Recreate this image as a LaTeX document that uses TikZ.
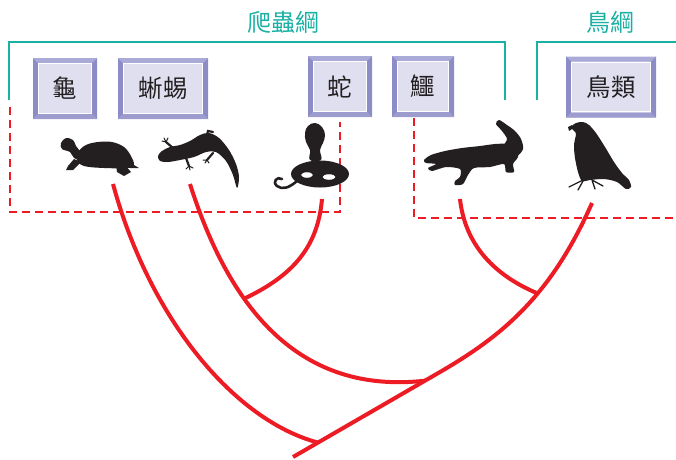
\documentclass[tikz,border=0pt]{standalone}
\usepackage{fontspec}
\newfontfamily\cjk{Noto Sans CJK TC}
\usetikzlibrary{calc}

\definecolor{hdteal}{RGB}{26,176,164}
\definecolor{clred}{RGB}{237,28,36}
\definecolor{ink}{RGB}{35,31,32}
\definecolor{bevtop}{RGB}{170,170,216}
\definecolor{bevside}{RGB}{140,140,198}
\definecolor{bevbot}{RGB}{156,156,206}
\definecolor{face}{RGB}{223,223,240}

\tikzset{
  taxon/.style={inner sep=0pt, minimum height=61pt, fill=face, text=ink,
    font=\cjk\fontsize{24.5}{24.5}\selectfont,
    path picture={
      \coordinate (nw) at (path picture bounding box.north west);
      \coordinate (ne) at (path picture bounding box.north east);
      \coordinate (sw) at (path picture bounding box.south west);
      \coordinate (se) at (path picture bounding box.south east);
      \fill[bevtop] (nw) -- (ne) -- ($(ne)+(-5pt,-5pt)$) -- ($(nw)+(5pt,-5pt)$) -- cycle;
      \fill[bevbot] (sw) -- (se) -- ($(se)+(-5pt,5pt)$) -- ($(sw)+(5pt,5pt)$) -- cycle;
      \fill[bevside] (nw) -- ($(nw)+(5pt,-5pt)$) -- ($(sw)+(5pt,5pt)$) -- (sw) -- cycle;
      \fill[bevside] (ne) -- ($(ne)+(-5pt,-5pt)$) -- ($(se)+(-5pt,5pt)$) -- (se) -- cycle;
      \draw[white, line width=1.2pt] ($(nw)+(5.8pt,-5.8pt)$) rectangle ($(se)+(-5.8pt,5.8pt)$);
    }},
  classlabel/.style={text=hdteal, font=\cjk\fontsize{24}{24}\selectfont, inner sep=0pt},
  bracket/.style={draw=hdteal, line width=2.6pt},
  cladebox/.style={draw=clred, line width=2.4pt, dash pattern=on 8pt off 5pt},
  branch/.style={draw=clred, line width=4pt},
  silhouette/.style={fill=ink},
  limb/.style={draw=ink, line width=2.2pt, line cap=round},
  claw/.style={draw=ink, line width=1pt, line cap=round}
}

\begin{document}
\begin{tikzpicture}[x=1pt, y=-1pt]
\useasboundingbox (0,0) rectangle (676,459);

% class labels and their brackets
\node[classlabel] (hRep) at (283,22) {爬蟲綱};
\node[classlabel] (hAve) at (610,22) {鳥綱};
\draw[bracket] (9,100) -- (9,42) -- (505,42) -- (505,100);
\draw[bracket] (537,100) -- (537,42) -- (676,42);

% taxon boxes
\node[taxon, minimum width=64pt] (kGui)   at (65,88.5)  {龜};
\node[taxon, minimum width=90pt] (kXiyi)  at (163,88.5) {蜥蜴};
\node[taxon, minimum width=64pt] (kShe)   at (340,86.5) {蛇};
\node[taxon, minimum width=62pt] (kE)     at (423,86.5) {鱷};
\node[taxon, minimum width=90pt] (kNiao)  at (611,87)   {鳥類};

% dashed groupings
\draw[cladebox] (10,107) -- (10,212) -- (340,212) -- (340,122);
\draw[cladebox] (414,118) -- (414,218) -- (676,218);

% ---- silhouettes ----
% turtle
\fill[silhouette] plot[smooth cycle, tension=0.6] coordinates
  {(78,152) (86,145) (98,142) (112,142) (124,147) (131,156) (134,165) (128,168) (104,168) (84,166) (77,160)};
\fill[silhouette] plot[smooth cycle, tension=0.6] coordinates
  {(61,143) (66,138) (73,140) (76,146) (81,153) (81,160) (74,158) (70,152) (62,149)};
\fill[silhouette] (74,159) -- (81,162) -- (73,170) -- (66,170) -- (68,166) -- cycle;
\fill[silhouette] (116,165) -- (125,165) -- (131,172) -- (124,176) -- (117,172) -- cycle;
\fill[silhouette] (129,162) -- (139,168) -- (130,168) -- cycle;

% lizard
\fill[silhouette] plot[smooth cycle, tension=0.55] coordinates
  {(158,156) (162,151) (170,147) (180,145) (190,141) (200,135) (209,133) (219,138) (229,150) (236,164) (239,177) (237,188) (233,175) (226,161) (216,152) (206,152) (194,157) (180,160) (168,162) (160,161)};
\draw[limb] (173,148) -- (166,142);
\draw[claw] (166,142) -- (162,141) (166,142) -- (164,138) (166,142) -- (168,138);
\draw[limb] (186,158) -- (189,166);
\draw[claw] (189,166) -- (186,169) (189,166) -- (190,170) (189,166) -- (193,168);
\draw[limb] (206,138) -- (208,131) -- (213,132);
\draw[limb] (213,153) -- (207,160);
\draw[claw] (207,160) -- (203,160) (207,160) -- (205,163) (207,160) -- (209,163);

% cobra
\fill[silhouette] plot[smooth cycle, tension=0.7] coordinates
  {(315,123) (322,127) (325,135) (323,143) (320,150) (321,160) (310,160) (310,150) (306,142) (305,133) (308,126)};
\fill[silhouette, even odd rule] (320,174) ellipse (29pt and 13.5pt)
  (307,175) ellipse (6pt and 2.8pt) (329,177) ellipse (6.5pt and 2.8pt);
\draw[ink, line width=2.6pt, line cap=round] (297,181) .. controls (289,188) and (282,190) .. (277,186)
  .. controls (272,182) and (277,176) .. (282,179);

% crocodile
\fill[silhouette] plot[smooth cycle, tension=0.45] coordinates
  {(424,160) (431,155) (445,151) (462,148) (480,146) (495,144) (507,144) (517,149) (518,157)
   (513,164) (514,172) (506,172) (504,164) (490,167) (474,168) (468,175) (463,184) (455,185)
   (455,181) (460,177) (460,169) (446,167) (432,171) (428,168) (436,164) (426,163)};
\fill[silhouette] plot[smooth cycle, tension=0.5] coordinates
  {(504,147) (507,139) (502,131) (496,124) (499,120) (507,125) (515,131) (521,139) (523,149) (516,156)};

% eagle
\fill[silhouette] plot[smooth cycle, tension=0.5] coordinates
  {(571,127) (576,123) (583,122) (589,125) (596,133) (605,147) (614,162) (622,173) (629,180) (631,187)
   (626,189) (617,182) (604,179) (590,180) (582,181) (578,172) (575,158) (574,145) (576,134) (574,131)};
\fill[silhouette] (572,125) -- (568,127) -- (569,131) -- (572,129) -- cycle;
\draw[claw, line width=1.3pt] (583,180) -- (569,187) (583,181) -- (578,190) (592,180) -- (603,186) (592,180) -- (595,189);

% ---- cladogram ----
\coordinate (root) at (293,457);
\coordinate (bend) at (440,372);
\coordinate (tipTurtle) at (113,184);
\coordinate (tipLizard) at (190,184);
\coordinate (tipSnake)  at (322,199);
\coordinate (tipCroc)   at (460,199);
\coordinate (tipBird)   at (592,203);
\coordinate (jLizard) at ($(root)!0.898!(bend)$);
\coordinate (jTurtle) at ($(root)!0.17!(bend)$);

\draw[branch] (tipBird) .. controls +(-42,95) and +(60,-35) .. (bend) coordinate[pos=0.4] (jCroc) -- (root);
\draw[branch] (tipLizard) .. controls +(40,126) and +(-125,14) .. (jLizard) coordinate[pos=0.35] (jSnake);
\draw[branch] (tipSnake) .. controls +(-4,46) and +(51,-24) .. (jSnake);
\draw[branch] (tipCroc) .. controls +(5,46) and +(-43,-18) .. (jCroc);
\draw[branch] (tipTurtle) .. controls +(37,136) and +(-83,-22) .. (jTurtle);
\end{tikzpicture}
\end{document}
